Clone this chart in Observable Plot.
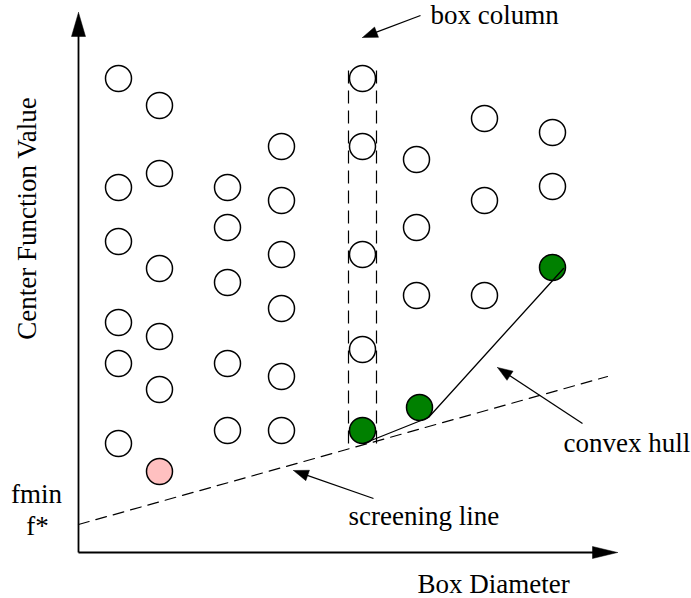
<!DOCTYPE html>
<html><head><meta charset="utf-8">
<script src="https://cdn.jsdelivr.net/npm/d3@7"></script>
<script src="https://cdn.jsdelivr.net/npm/@observablehq/plot@0.6"></script>
<style>body{margin:0;background:#fff;}</style>
</head><body><div id="chart"></div>
<script>
// Diagram units: horizontal = box diameter, vertical = center function value (origin = axes corner)
const columnDiameters = [40, 81, 149, 203, 284, 338, 406, 474];
const columnValues = [
  [474, 365, 311, 230, 189, 109],
  [447, 379, 284, 216, 163],
  [365, 325, 270, 189, 122],
  [406, 352, 298, 244, 176, 122],
  [474, 406, 298, 203],
  [393, 325, 257],
  [434, 352, 257],
  [420, 366]
];
const bestBox = [{d: 81, f: 81}];                 // current best (fmin) box, pink
const optimalD = [284, 341, 474];                 // potentially optimal boxes (green)
const optimalF = [122, 145, 285];
const hullD = [285, 350, 485];                    // lower-right convex hull
const hullF = [109, 135, 284];
const screeningD = [0, 529];                      // screening line through f*
const screeningF = [28, 176];
const boxColumnD = [270, 298];                    // dashed box column
const boxColumnF = [109, 487];
const axisEnd = {d: 539, f: 540};

const labelTexts = ["box column", "screening line", "convex hull", "Box Diameter"];
const labelD = [352, 270, 485, 339];
const labelF = [529, 28, 101, -40];
const pointerFrom = [[342, 537], [295, 54], [504, 129]];
const pointerTo = [[284, 515], [215, 82], [419, 185]];

// build tables
const openBoxes = columnDiameters.flatMap((d, i) => columnValues[i].map(f => ({d, f})));
const optimal = optimalD.map((d, i) => ({d, f: optimalF[i]}));
const hull = hullD.map((d, i) => ({d, f: hullF[i]}));
const screening = screeningD.map((d, i) => ({d, f: screeningF[i]}));
const boxColumn = boxColumnD.map(d => ({x1: d, x2: d, y1: boxColumnF[0], y2: boxColumnF[1]}));
const labels = labelTexts.map((t, i) => ({t, d: labelD[i], f: labelF[i]}));

function head(tail, tip, L, W, id) {
  const dx = tip[0] - tail[0], dy = tip[1] - tail[1];
  const n = Math.hypot(dx, dy), ux = dx / n, uy = dy / n;
  const bx = tip[0] - ux * L, by = tip[1] - uy * L;
  return [
    {id, d: tip[0], f: tip[1]},
    {id, d: bx - uy * W, f: by + ux * W},
    {id, d: bx + uy * W, f: by - ux * W},
    {id, d: tip[0], f: tip[1]}
  ];
}
const heads = [
  ...head([0, 0], [0, axisEnd.f], 24, 7, "ya"),
  ...head([0, 0], [axisEnd.d, 0], 25, 6, "xa"),
  ...pointerFrom.flatMap((p, i) => head(p, pointerTo[i], 15, 5.5, "p" + i))
];
const pointerLinks = pointerFrom.map((p, i) => {
  const t = pointerTo[i];
  const dx = t[0] - p[0], dy = t[1] - p[1], n = Math.hypot(dx, dy);
  return {x1: p[0], y1: p[1], x2: t[0] - dx / n * 10, y2: t[1] - dy / n * 10};
});
const axes = [
  {x1: 0, y1: 0, x2: 0, y2: axisEnd.f - 18},
  {x1: 0, y1: 0, x2: axisEnd.d - 20, y2: 0}
];

const font = "'Liberation Serif', 'Times New Roman', serif";
const chart = Plot.plot({
  width: 691, height: 598, margin: 0,
  x: {domain: [-78, 613], axis: null},
  y: {domain: [-46, 552], axis: null},
  style: {fontFamily: font, background: "white", overflow: "visible"},
  marks: [
    Plot.line(screening, {x: "d", y: "f", stroke: "black", strokeWidth: 1.2, strokeDasharray: "11,7"}),
    Plot.link(boxColumn, {x1: "x1", x2: "x2", y1: "y1", y2: "y2", stroke: "black", strokeWidth: 1.2, strokeDasharray: "13,7"}),
    Plot.link(axes, {x1: "x1", x2: "x2", y1: "y1", y2: "y2", stroke: "black", strokeWidth: 1.8}),
    Plot.dot(openBoxes, {x: "d", y: "f", r: 13, fill: "white", stroke: "black", strokeWidth: 1.5}),
    Plot.dot(bestBox, {x: "d", y: "f", r: 13, fill: "#ffc0c0", stroke: "black", strokeWidth: 1.5}),
    Plot.dot(optimal, {x: "d", y: "f", r: 13, fill: "#008000", stroke: "black", strokeWidth: 1.5}),
    Plot.line(hull, {x: "d", y: "f", stroke: "black", strokeWidth: 1.3}),
    Plot.link(pointerLinks, {x1: "x1", x2: "x2", y1: "y1", y2: "y2", stroke: "black", strokeWidth: 1.3}),
    Plot.line(heads, {x: "d", y: "f", z: "id", fill: "black", stroke: "black", strokeWidth: 0.5}),
    Plot.text(labels, {x: "d", y: "f", text: "t", textAnchor: "start", lineAnchor: "bottom", fontSize: 27, fill: "black"}),
    Plot.text([{t: "fmin", d: -42, f: 50}, {t: "f*", d: -41, f: 18}], {x: "d", y: "f", text: "t", textAnchor: "middle", lineAnchor: "bottom", fontSize: 27, fill: "black"}),
    Plot.text([{t: "Center Function Value", d: -43, f: 334}], {x: "d", y: "f", text: "t", rotate: -90, textAnchor: "middle", lineAnchor: "bottom", fontSize: 27, fill: "black"})
  ]
});
document.getElementById("chart").appendChild(chart);
</script>
</body></html>
